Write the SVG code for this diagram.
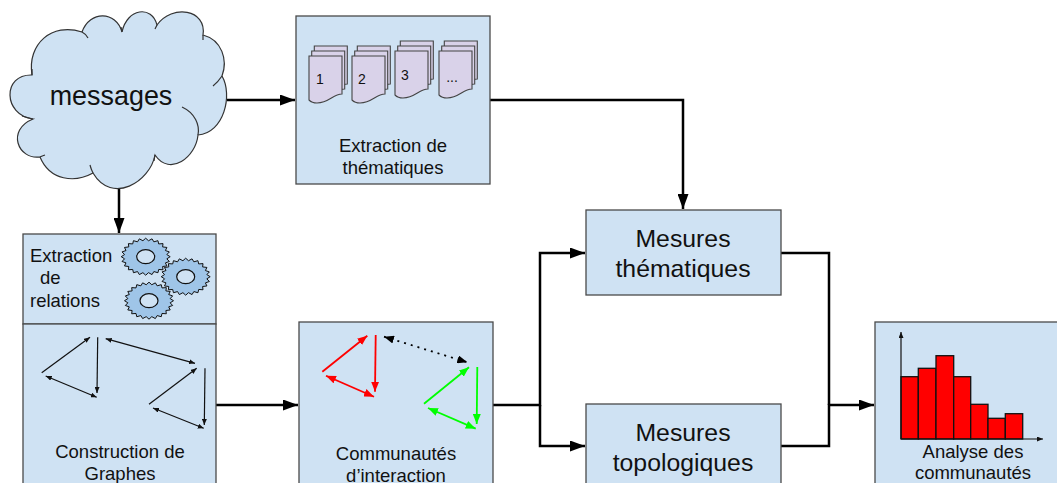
<svg xmlns="http://www.w3.org/2000/svg" width="1057" height="483" viewBox="0 0 1057 483">
<style>
.box{fill:#cfe2f3;stroke:#4a4a4a;stroke-width:1.3}
.t{font-family:"Liberation Sans",Arial,sans-serif;fill:#111;text-anchor:middle}
.s{font-size:18.5px}
.l{font-size:24.8px}
.n{font-size:14px}
.conn{fill:none;stroke:#000;stroke-width:2.5}
.thin{fill:none;stroke:#111;stroke-width:1.2}
.red{fill:none;stroke:#f00;stroke-width:1.8}
.green{fill:none;stroke:#0f0;stroke-width:1.8}
.doc{fill:#d9d2e9;stroke:#444;stroke-width:1.1}
.gear{fill:#9fc5e8;stroke:#111;stroke-width:1;vector-effect:non-scaling-stroke}
.hole{fill:#cfe2f3;stroke:#111;stroke-width:1.2}
.bar{fill:#f00;stroke:#111;stroke-width:1.3}
</style>
<defs>
<marker id="big" markerUnits="userSpaceOnUse" markerWidth="15" markerHeight="11" refX="15" refY="5.5" orient="auto"><path d="M0 0L15 5.5L0 11Z" fill="#000"/></marker>
<marker id="sE" markerUnits="userSpaceOnUse" markerWidth="6" markerHeight="5" refX="6" refY="2.5" orient="auto-start-reverse"><path d="M0 0L6 2.5L0 5Z" fill="#111"/></marker>
<marker id="rE" markerUnits="userSpaceOnUse" markerWidth="10" markerHeight="8" refX="10" refY="4" orient="auto-start-reverse"><path d="M0 0L10 4L0 8Z" fill="#f00"/></marker>
<marker id="gE" markerUnits="userSpaceOnUse" markerWidth="10" markerHeight="8" refX="10" refY="4" orient="auto-start-reverse"><path d="M0 0L10 4L0 8Z" fill="#0f0"/></marker>
<marker id="kE" markerUnits="userSpaceOnUse" markerWidth="10" markerHeight="8" refX="10" refY="4" orient="auto-start-reverse"><path d="M0 0L10 4L0 8Z" fill="#000"/></marker>
<polygon id="gearShape" class="gear" points="100,0 86.3,11.4 96.6,25.9 80.4,33.3 86.6,50 69,53 70.7,70.7 53,69 50,86.6 33.3,80.4 25.9,96.6 11.4,86.3 0,100 -11.4,86.3 -25.9,96.6 -33.3,80.4 -50,86.6 -53,69 -70.7,70.7 -69,53 -86.6,50 -80.4,33.3 -96.6,25.9 -86.3,11.4 -100,0 -86.3,-11.4 -96.6,-25.9 -80.4,-33.3 -86.6,-50 -69,-53 -70.7,-70.7 -53,-69 -50,-86.6 -33.3,-80.4 -25.9,-96.6 -11.4,-86.3 0,-100 11.4,-86.3 25.9,-96.6 33.3,-80.4 50,-86.6 53,-69 70.7,-70.7 69,-53 86.6,-50 80.4,-33.3 96.6,-25.9 86.3,-11.4"/>
<path id="page" class="doc" d="M0 0H33V38C24 38 20 47 8 47C4 47 2 46 0 44Z"/>
<g id="stack"><use href="#page" x="5.3" y="-10"/><use href="#page" x="2.7" y="-5"/><use href="#page"/></g>
</defs>

<g id="connectors">
<path class="conn" d="M227 100H295" marker-end="url(#big)"/>
<path class="conn" d="M490 100H683V209" marker-end="url(#big)"/>
<path class="conn" d="M119 189V233" marker-end="url(#big)"/>
<path class="conn" d="M216 405H298" marker-end="url(#big)"/>
<path class="conn" d="M493 405H540V253H585" marker-end="url(#big)"/>
<path class="conn" d="M540 405V446H585" marker-end="url(#big)"/>
<path class="conn" d="M781 253H829V405"/>
<path class="conn" d="M781 446H829V405H874" marker-end="url(#big)"/>
</g>

<g id="messages">
<path d="M32 75C27 44 52 22 82 32C90 10 116 11 122 32C127 8 152 5 157 25C172 4 207 9 203 35C222 40 228 60 222 76C233 95 224 133 198 135C196 157 170 177 155 155C150 182 112 205 93 173C75 183 50 181 40 157C18 160 6 130 33 119C3 115 2 74 32 75Z" fill="#cfe2f3" stroke="#333" stroke-width="1.2"/>
<path d="M82 32Q86 34 88 38M122 32L121 27M157 25L155 29M203 35L203 40M222 76Q218 82 213 86M198 135C200 125 195 113 182 107M155 155L154 161M93 173Q91 169 90 165M40 157Q42 156 45 155M33 119L22 116M32 75L32 69" fill="none" stroke="#333" stroke-width="1.2"/>
<text class="t" x="111" y="105" font-size="26.9">messages</text>
</g>

<g id="extraction-thematiques">
<rect class="box" x="296" y="16" width="194" height="168"/>
<use href="#stack" x="309" y="56"/>
<use href="#stack" x="352" y="56"/>
<use href="#stack" x="395" y="51"/>
<use href="#stack" x="439" y="51"/>
<text class="t n" x="320" y="84">1</text>
<text class="t n" x="362" y="84">2</text>
<text class="t n" x="405" y="80">3</text>
<text class="t n" x="452" y="82">...</text>
<text class="t s" x="393" y="152">Extraction de</text>
<text class="t s" x="393" y="174">thématiques</text>
</g>

<g id="extraction-relations">
<rect class="box" x="23" y="234" width="193" height="90"/>
<use href="#gearShape" transform="translate(185.7 276.7) scale(.245 .185)"/>
<ellipse class="hole" cx="185.7" cy="276.7" rx="9" ry="7"/>
<use href="#gearShape" transform="translate(145.7 256.7) scale(.245 .185)"/>
<ellipse class="hole" cx="145.7" cy="256.7" rx="9" ry="7"/>
<use href="#gearShape" transform="translate(149 300.7) scale(.245 .185)"/>
<ellipse class="hole" cx="149" cy="300.7" rx="9" ry="7"/>
<text class="t s" x="30" y="262" style="text-anchor:start">Extraction</text>
<text class="t s" x="40" y="284" style="text-anchor:start">de</text>
<text class="t s" x="30" y="307" style="text-anchor:start">relations</text>
</g>

<g id="construction-graphes">
<rect class="box" x="23" y="324" width="193" height="170"/>
<g class="thin">
<path d="M41.7 372.7L90 337.3" marker-end="url(#sE)"/>
<path d="M97.7 337.3L97 393" marker-end="url(#sE)"/>
<path d="M45.7 376L96.7 397.3" marker-start="url(#sE)" marker-end="url(#sE)"/>
<path d="M105.7 338.7L195 363.3" marker-start="url(#sE)" marker-end="url(#sE)"/>
<path d="M149 404.3L196.7 368.3" marker-end="url(#sE)"/>
<path d="M205 368.3L204.3 425" marker-end="url(#sE)"/>
<path d="M153 408L203.7 428.3" marker-start="url(#sE)" marker-end="url(#sE)"/>
</g>
<text class="t s" x="120" y="458">Construction de</text>
<text class="t s" x="120" y="480">Graphes</text>
</g>

<g id="communautes">
<rect class="box" x="299" y="322" width="194" height="172"/>
<path class="red" d="M322.3 371.7L367.3 335.7" marker-end="url(#rE)"/>
<path class="red" d="M375.7 335L375 391.7" marker-end="url(#rE)"/>
<path class="red" d="M326 375.7L374 396.7" marker-start="url(#rE)" marker-end="url(#rE)"/>
<path d="M384 336.7L467.3 362.3" fill="none" stroke="#000" stroke-width="1.8" stroke-dasharray="2 5" marker-start="url(#kE)" marker-end="url(#kE)"/>
<path class="green" d="M424 403.7L469 367.3" marker-end="url(#gE)"/>
<path class="green" d="M477.3 367L476.7 424" marker-end="url(#gE)"/>
<path class="green" d="M428 408L475.7 428.7" marker-start="url(#gE)" marker-end="url(#gE)"/>
<text class="t s" x="396" y="460">Communautés</text>
<text class="t s" x="396" y="482">d’interaction</text>
</g>

<g id="mesures-thematiques">
<rect class="box" x="586" y="210" width="195" height="85"/>
<text class="t l" x="683" y="247">Mesures</text>
<text class="t l" x="683" y="277">thématiques</text>
</g>

<g id="mesures-topologiques">
<rect class="box" x="586" y="404" width="195" height="90"/>
<text class="t l" x="683" y="441">Mesures</text>
<text class="t l" x="683" y="471">topologiques</text>
</g>

<g id="analyse">
<rect class="box" x="875" y="322" width="190" height="172"/>
<rect class="bar" x="901" y="376.7" width="17.3" height="62.3"/>
<rect class="bar" x="918.3" y="368.3" width="17.7" height="70.7"/>
<rect class="bar" x="936" y="355.7" width="17.7" height="83.3"/>
<rect class="bar" x="953.7" y="376.7" width="17" height="62.3"/>
<rect class="bar" x="970.7" y="404.3" width="17.3" height="34.7"/>
<rect class="bar" x="988" y="418.3" width="17.3" height="20.7"/>
<rect class="bar" x="1005.3" y="413.7" width="17.4" height="25.3"/>
<path class="thin" d="M901 439V332" marker-end="url(#sE)"/>
<path class="thin" d="M901 439H1043" marker-end="url(#sE)"/>
<text class="t s" x="973" y="458">Analyse des</text>
<text class="t s" x="973" y="479">communautés</text>
</g>
</svg>
